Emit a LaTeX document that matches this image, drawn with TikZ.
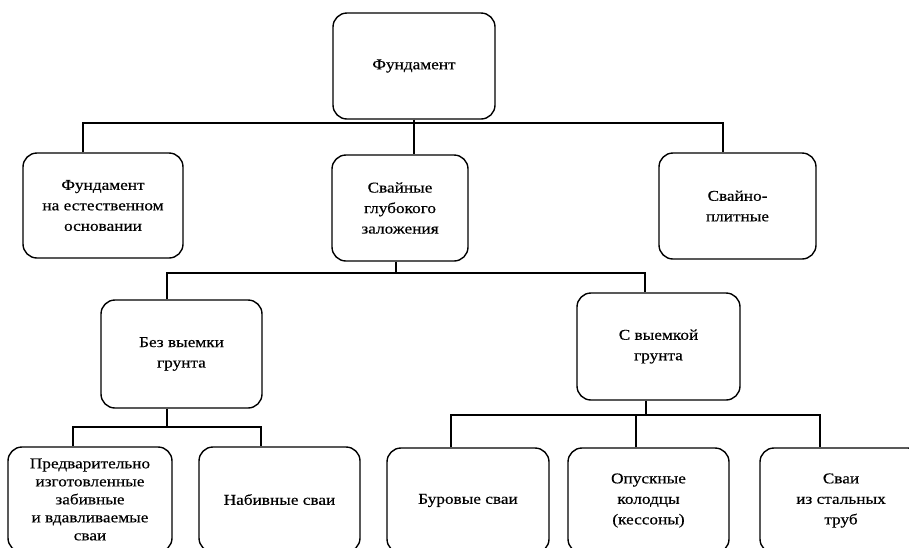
\documentclass[tikz,border=0pt]{standalone}
\usepackage{fontspec}
\setmainfont[FakeStretch=1.15,FakeBold=0.4]{Liberation Serif}
\begin{document}
\begin{tikzpicture}[x=1pt,y=-1pt,
  box/.style={draw, line width=1.4pt, rounded corners=14pt, align=center, inner sep=0pt,
    font=\fontsize{15}{20.5}\selectfont, anchor=center},
  conn/.style={line width=1.4pt}]
\useasboundingbox (0,0) rectangle (909,547);
\clip (0,0) rectangle (909,547);
% nodes
\node[box, minimum width=162pt, minimum height=106pt] (top) at (414,66) {Фундамент};
\node[box, minimum width=160pt, minimum height=105pt] (nat) at (103,205.5) {Фундамент\\на естественном\\основании};
\node[box, minimum width=136pt, minimum height=106pt] (deep) at (400,208) {Свайные\\глубокого\\заложения};
\node[box, minimum width=157pt, minimum height=106pt] (plate) at (737.5,206) {Свайно-\\плитные};
\node[box, minimum width=161pt, minimum height=108pt] (noexc) at (181.5,354) {Без выемки\\грунта};
\node[box, minimum width=163pt, minimum height=107pt] (exc) at (658.5,346.5) {С выемкой\\грунта};
\node[box, minimum width=164pt, minimum height=105pt, font=\fontsize{15}{18}\selectfont] (pre) at (90,499.5) {Предварительно\\изготовленные\\забивные\\и вдавливаемые\\сваи};
\node[box, minimum width=161pt, minimum height=105pt] (fill) at (279.5,499.5) {Набивные сваи};
\node[box, minimum width=162pt, minimum height=105pt] (bore) at (468,500.5) {Буровые сваи};
\node[box, minimum width=161pt, minimum height=105pt] (caisson) at (648.5,500.5) {Опускные\\колодцы\\(кессоны)};
\node[box, minimum width=162pt, minimum height=105pt] (steel) at (841,500.5) {Сваи\\из стальных\\труб};
% bus coordinates
\coordinate (b1) at (414,123);
\coordinate (b2) at (396,273);
\coordinate (b3) at (167,427);
\coordinate (b4) at (646,415);
% level 1
\draw[conn] (top.south) -- (top.south |- deep.north);
\draw[conn] ([xshift=-20pt]nat.north) -- ([xshift=-20pt]nat.north |- b1) -- ([xshift=-14.5pt]plate.north |- b1) -- ([xshift=-14.5pt]plate.north);
% level 2
\draw[conn] ([xshift=-4pt]deep.south) -- (b2);
\draw[conn] ([xshift=-14.5pt]noexc.north) -- ([xshift=-14.5pt]noexc.north |- b2) -- ([xshift=-13.5pt]exc.north |- b2) -- ([xshift=-13.5pt]exc.north);
% level 3 left
\draw[conn] ([xshift=-14.5pt]noexc.south) -- (b3);
\draw[conn] ([xshift=-17pt]pre.north) -- ([xshift=-17pt]pre.north |- b3) -- ([xshift=-18.5pt]fill.north |- b3) -- ([xshift=-18.5pt]fill.north);
% level 3 right
\draw[conn] ([xshift=-12.5pt]exc.south) -- (b4);
\draw[conn] ([xshift=-17pt]bore.north) -- ([xshift=-17pt]bore.north |- b4) -- ([xshift=-21pt]steel.north |- b4) -- ([xshift=-21pt]steel.north);
\draw[conn] ([xshift=-12.5pt]caisson.north) -- ([xshift=-12.5pt]caisson.north |- b4);
\end{tikzpicture}
\end{document}
